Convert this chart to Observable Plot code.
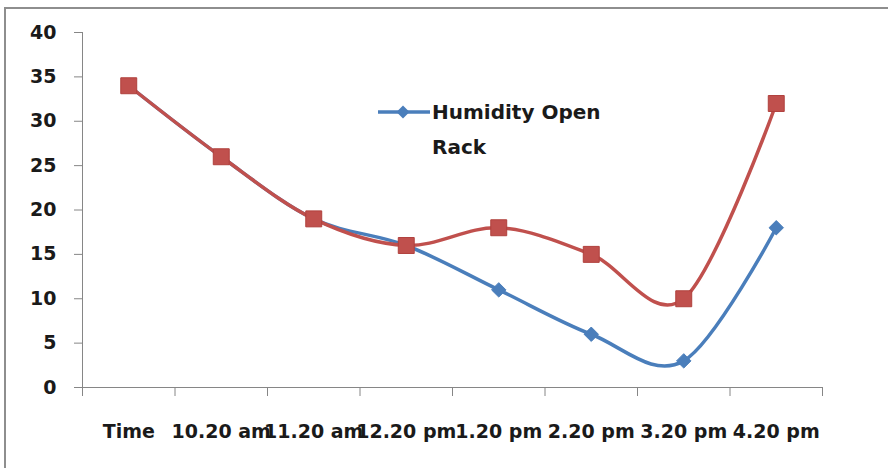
<!DOCTYPE html>
<html><head><meta charset="utf-8">
<script src="https://cdn.jsdelivr.net/npm/d3@7"></script>
<script src="https://cdn.jsdelivr.net/npm/@observablehq/plot@0.6"></script>
<style>
body{margin:0;background:#fff;}
#wrap{position:relative;width:888px;height:468px;overflow:hidden;background:#fff;}
#border{position:absolute;left:4px;top:7px;width:900px;height:480px;border-left:2px solid #8e8e8e;border-top:2px solid #8e8e8e;box-sizing:border-box;}
#chart{position:absolute;left:0;top:0;}
#legend{position:absolute;left:378px;top:97px;font-family:"DejaVu Sans";font-weight:bold;font-size:20px;color:#1a1a1a;}
#legend .row{display:flex;align-items:center;height:30px;}
#legend .t2{padding-left:54px;line-height:30px;margin-top:5px;}
</style></head><body>
<div id="wrap"><div id="border"></div><div id="chart"></div>
<div id="legend"><div class="row"><svg width="54" height="20"><line x1="0" x2="52" y1="10" y2="10" stroke="#4A7EBB" stroke-width="3.5"/><path d="M25,3.5L31.5,10L25,16.5L18.5,10Z" fill="#4A7EBB"/></svg><span>Humidity Open</span></div><div class="t2">Rack</div></div>
</div>
<script>
const categories = ["Time","10.20 am","11.20 am","12.20 pm","1.20 pm","2.20 pm","3.20 pm","4.20 pm"];
const openRack = [34, 26, 19, 16, 11, 6, 3, 18];
const secondSeries = [34, 26, 19, 16, 18, 15, 10, 32];
const yTicks = [0, 5, 10, 15, 20, 25, 30, 35, 40];

const idx = categories.map((c, i) => i);
const bounds = d3.range(-0.5, categories.length, 1);
const blue = categories.map((c, i) => ({i, v: openRack[i]}));
const red = categories.map((c, i) => ({i, v: secondSeries[i]}));
const axisGray = "#868686";

const chart = Plot.plot({
  width: 888, height: 468,
  marginLeft: 82, marginRight: 66, marginTop: 32, marginBottom: 81,
  style: {fontFamily: "DejaVu Sans", fontWeight: "bold", fontSize: "19px", color: "#1a1a1a", background: "transparent", overflow: "visible"},
  x: {type: "linear", domain: [-0.5, categories.length - 0.5], label: null},
  y: {domain: [0, 40], label: null},
  marks: [
    Plot.ruleX([-0.5], {stroke: axisGray}),
    Plot.ruleY([0], {stroke: axisGray}),
    Plot.axisY({ticks: yTicks, tickSize: 8, tickPadding: 18, stroke: axisGray, fill: "#1a1a1a", label: null, tickFormat: d => String(d)}),
    Plot.axisX({ticks: bounds, tickSize: 9, stroke: axisGray, label: null, tickFormat: () => ""}),
    Plot.axisX({ticks: idx, tickSize: 0, tickPadding: 37, fill: "#1a1a1a", label: null, tickFormat: i => categories[i]}),
    Plot.line(blue, {x: "i", y: "v", stroke: "#4A7EBB", strokeWidth: 3.5, curve: "cardinal", tension: 0}),
    Plot.dot(blue, {x: "i", y: "v", symbol: "diamond2", r: 6.5, fill: "#4A7EBB", stroke: "#4A7EBB", strokeWidth: 1}),
    Plot.line(red, {x: "i", y: "v", stroke: "#C0504D", strokeWidth: 3.5, curve: "cardinal", tension: 0}),
    Plot.dot(red, {x: "i", y: "v", symbol: "square", r: 9, fill: "#C0504D", stroke: "#B0403D", strokeWidth: 1})
  ]
});
document.getElementById("chart").appendChild(chart);
</script>
</body></html>
